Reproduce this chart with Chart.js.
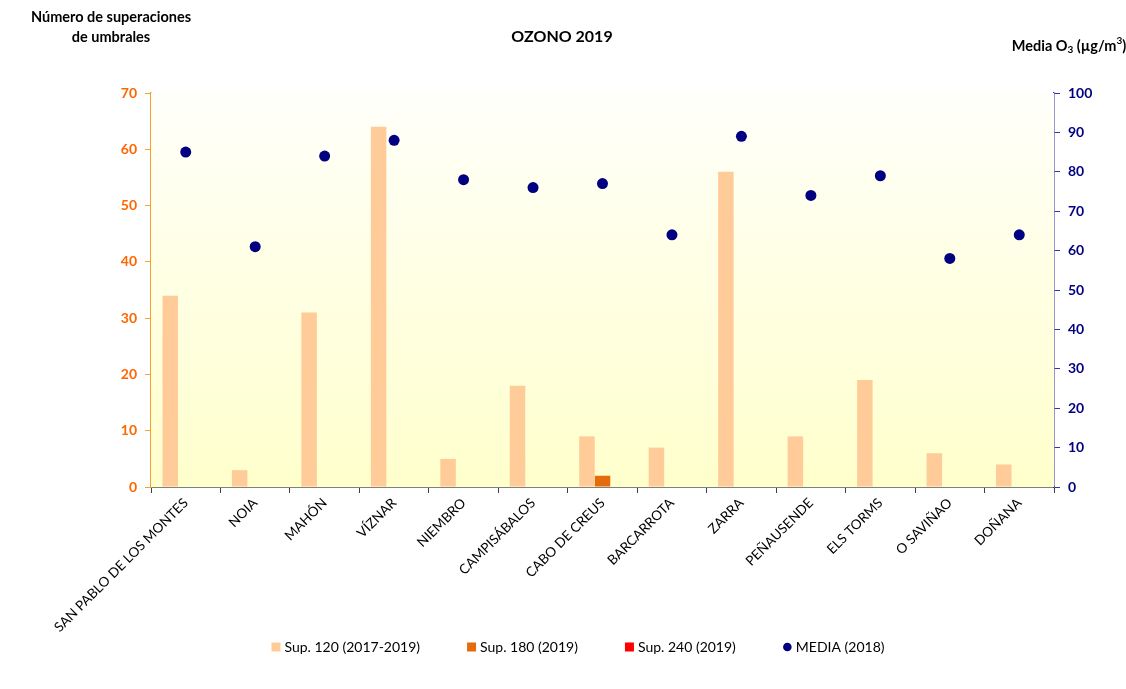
<!DOCTYPE html>
<html>
<head>
<meta charset="utf-8">
<script src="https://cdn.jsdelivr.net/npm/chart.js@4"></script>
<style>
  html, body { margin: 0; padding: 0; background: #fff; }
  #wrap { width: 1126px; height: 689px; }
</style>
</head>
<body>
<div id="wrap"><canvas id="ozoneChart"></canvas></div>
<script>
// Data
const stations = ["SAN PABLO DE LOS MONTES", "NOIA", "MAHÓN", "VÍZNAR", "NIEMBRO", "CAMPISÁBALOS",
  "CABO DE CREUS", "BARCARROTA", "ZARRA", "PEÑAUSENDE", "ELS TORMS", "O SAVIÑAO", "DOÑANA"];
const sup120 = [34, 3, 31, 64, 5, 18, 9, 7, 56, 9, 19, 6, 4];
const sup180 = [0, 0, 0, 0, 0, 0, 2, 0, 0, 0, 0, 0, 0];
const sup240 = [0, 0, 0, 0, 0, 0, 0, 0, 0, 0, 0, 0, 0];
const media2018 = [85, 61, 84, 88, 78, 76, 77, 64, 89, 74, 79, 58, 64];
const leftTicks = [0, 10, 20, 30, 40, 50, 60, 70];
const rightTicks = [0, 10, 20, 30, 40, 50, 60, 70, 80, 90, 100];

const FONT = "Lato, 'Open Sans', sans-serif";
const NAVY = '#000080';

// Gradient background, titles and bottom legend
const decorPlugin = {
  id: 'decor',
  beforeDatasetsDraw(chart) {
    const { ctx, chartArea: a } = chart;
    const g = ctx.createLinearGradient(0, a.top, 0, a.bottom);
    g.addColorStop(0, '#FFFFFA');
    g.addColorStop(1, '#FFFFCC');
    ctx.save();
    ctx.fillStyle = g;
    ctx.fillRect(a.left, a.top, a.right - a.left, a.bottom - a.top);
    ctx.restore();
  },
  afterDraw(chart) {
    const { ctx } = chart;
    ctx.save();
    ctx.fillStyle = '#000';
    ctx.textAlign = 'center';
    ctx.textBaseline = 'middle';
    ctx.font = `bold 16px ${FONT}`;
    ctx.fillText('OZONO 2019', 562, 37);
    ctx.font = `bold 14.5px ${FONT}`;
    ctx.fillText('Número de superaciones', 111, 17);
    ctx.fillText('de umbrales', 111, 37);

    // right axis title with sub/superscript
    const parts = [['Media O', 14.5, 0], ['3', 10, 4], [' (µg/m', 14.5, 0], ['3', 10, -5], [')', 14.5, 0]];
    let total = 0;
    parts.forEach(([t, s]) => { ctx.font = `bold ${s}px ${FONT}`; total += ctx.measureText(t).width; });
    let x = 1069 - total / 2;
    ctx.textAlign = 'left';
    parts.forEach(([t, s, dy]) => {
      ctx.font = `bold ${s}px ${FONT}`;
      ctx.fillText(t, x, 46 + dy);
      x += ctx.measureText(t).width;
    });

    // legend
    ctx.font = `14px ${FONT}`;
    const sets = chart.data.datasets;
    const box = 9, gapText = 4, gapItem = 47;
    const widths = sets.map(d => box + gapText + ctx.measureText(d.label).width);
    const full = widths.reduce((s, w) => s + w, 0) + gapItem * (sets.length - 1);
    let lx = 578 - full / 2;
    const ly = 647;
    sets.forEach((d, i) => {
      ctx.fillStyle = d.backgroundColor;
      if (d.type === 'line') {
        ctx.beginPath(); ctx.arc(lx + box / 2, ly, 4.3, 0, Math.PI * 2); ctx.fill();
      } else {
        ctx.fillRect(lx, ly - box / 2, box, box);
      }
      ctx.fillStyle = '#000';
      ctx.fillText(d.label, lx + box + gapText, ly);
      lx += widths[i] + gapItem;
    });
    ctx.restore();
  }
};

new Chart(document.getElementById('ozoneChart'), {
  type: 'bar',
  data: {
    labels: stations,
    datasets: [
      { label: 'Sup. 120 (2017-2019)', data: sup120, backgroundColor: '#FFCC99', yAxisID: 'y' },
      { label: 'Sup. 180 (2019)', data: sup180, backgroundColor: '#E46C0A', yAxisID: 'y' },
      { label: 'Sup. 240 (2019)', data: sup240, backgroundColor: '#FF0000', yAxisID: 'y' },
      { type: 'line', label: 'MEDIA (2018)', data: media2018, showLine: false, yAxisID: 'y1',
        pointStyle: 'circle', pointRadius: 5.5, pointHoverRadius: 5.5, pointBorderWidth: 0,
        backgroundColor: NAVY, borderColor: NAVY }
    ]
  },
  options: {
    responsive: true,
    maintainAspectRatio: false,
    animation: false,
    layout: { padding: { top: 93, bottom: 57, left: 0, right: 0 } },
    datasets: { bar: { barPercentage: 1, categoryPercentage: 0.67 } },
    plugins: {
      legend: { display: false },
      tooltip: { enabled: false }
    },
    scales: {
      x: {
        grid: { display: true, drawOnChartArea: false, offset: true, color: '#404040', tickLength: 6 },
        border: { color: '#808080', width: 2 },
        ticks: { maxRotation: 45, minRotation: 45, autoSkip: false, color: '#000', font: { family: FONT, size: 13.5 }, padding: 2 },
        afterFit(s) { s.height = 145; }
      },
      y: {
        position: 'left', min: 0, max: 70,
        afterBuildTicks(s) { s.ticks = leftTicks.map(v => ({ value: v })); },
        grid: { drawOnChartArea: false, color: '#F7A030', tickLength: 6 },
        border: { color: '#F7A030', width: 1.5 },
        ticks: { color: '#FF6600', font: { family: FONT, size: 14, weight: 'bold' }, padding: 8 },
        afterFit(s) { s.width = 151; }
      },
      y1: {
        position: 'right', min: 0, max: 100,
        afterBuildTicks(s) { s.ticks = rightTicks.map(v => ({ value: v })); },
        grid: { drawOnChartArea: false, color: '#3333AA', tickLength: 6 },
        border: { color: '#3333AA', width: 1.5 },
        ticks: { color: NAVY, font: { family: FONT, size: 14, weight: 'bold' }, padding: 8 },
        afterFit(s) { s.width = 72; }
      }
    }
  },
  plugins: [decorPlugin]
});
</script>
</body>
</html>
